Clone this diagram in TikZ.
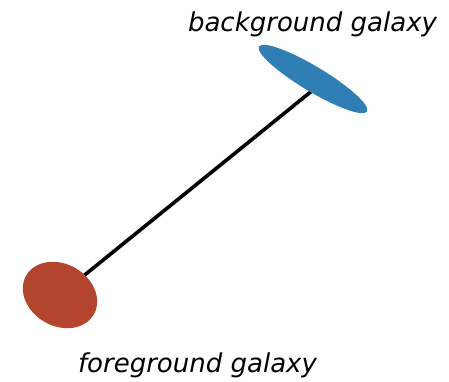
\documentclass[tikz,border=0pt]{standalone}
\usepackage{fontspec}
\setmainfont{DejaVu Sans}
\usepackage{xcolor}
\usetikzlibrary{shapes.geometric, backgrounds}
\definecolor{galbleu}{HTML}{2F7FB4}
\definecolor{galrouge}{HTML}{B3452E}

\begin{document}
\begin{tikzpicture}[x=1pt, y=1pt,
    galaxie/.style={ellipse, inner sep=0pt, outer sep=0pt},
    etiquette/.style={font=\fontsize{26}{30}\selectfont\itshape, anchor=base, inner sep=0pt}]
    \useasboundingbox (0,0) rectangle (449,382);
    % Galaxies
    \coordinate (visee) at (313,292);
    \node[galaxie, fill=galrouge, minimum width=78, minimum height=62, rotate=-30] (avant) at (60,87) {};
    \node[galaxie, fill=galbleu, minimum width=126, minimum height=25, rotate=-31] (fond) at (313,303) {};
    % Ligne de visee
    \begin{scope}[on background layer]
      \draw[line width=3.6pt] (avant.center) -- (visee);
    \end{scope}
    % Legendes
    \node[etiquette] (lfond) at (312.5,350) {background galaxy};
    \node[etiquette] (lavant) at (197.5,9) {foreground galaxy};
  \end{tikzpicture}
\end{document}
